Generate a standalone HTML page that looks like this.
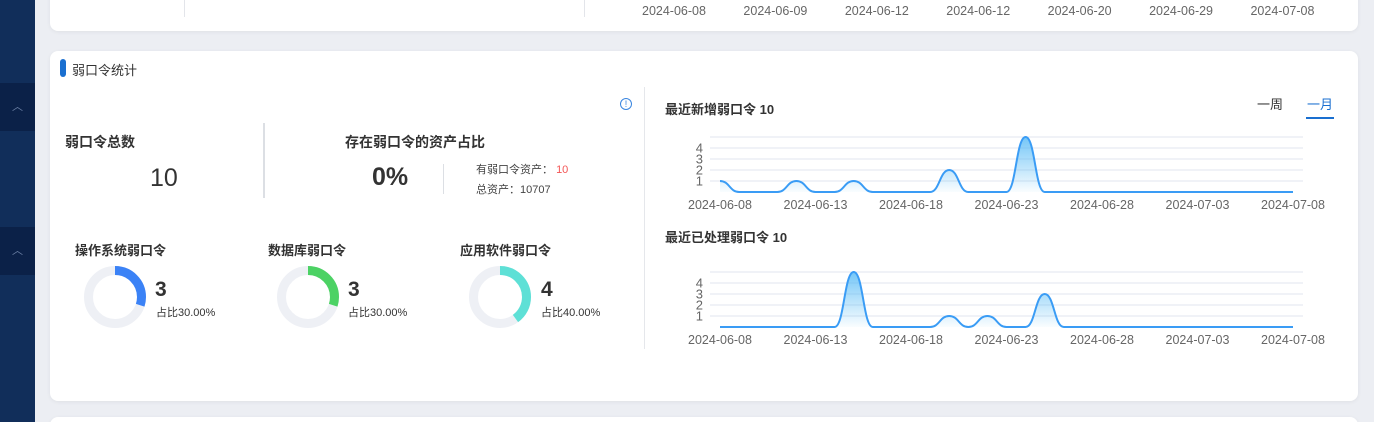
<!DOCTYPE html>
<html><head><meta charset="utf-8">
<style>
*{box-sizing:border-box;margin:0;padding:0}
html,body{width:1374px;height:422px;overflow:hidden}
body{background:#eceef3;font-family:"Liberation Sans","Noto Sans CJK SC",sans-serif;position:relative;color:#333}
.sidebar{position:absolute;left:0;top:0;width:35px;height:422px;background:#112e5a}
.sb-item{position:absolute;left:0;width:35px;height:48px;background:#0b2148;color:#6d82a6;font-size:11px;text-align:center;line-height:48px}
.card{position:absolute;left:50px;width:1308px;background:#fff;border-radius:8px;box-shadow:0 1px 4px rgba(0,0,0,.06)}
.abs{position:absolute;white-space:nowrap}
</style></head><body>
<div class="sidebar">
 <div class="sb-item" style="top:83px">︿</div>
 <div class="sb-item" style="top:227px">︿</div>
</div>
<div class="card" style="top:-10px;height:41px">
 <div class="abs" style="left:134px;top:0;width:1px;height:27px;background:#e3e5ea"></div>
 <div class="abs" style="left:534px;top:0;width:1px;height:27px;background:#e3e5ea"></div>
 <div class="abs" style="left:592px;top:14px;font-size:12.5px;color:#666;word-spacing:34px">2024-06-08 2024-06-09 2024-06-12 2024-06-12 2024-06-20 2024-06-29 2024-07-08</div>
</div>
<div class="card" style="top:51px;height:350px">
 <div class="abs" style="left:10px;top:8px;width:6px;height:18px;background:#1a6fd0;border-radius:3px"></div>
 <div class="abs" style="left:22px;top:9px;font-size:13px;color:#333">弱口令统计</div>
 <div class="abs" style="left:570px;top:47px;width:12px;height:12px;border:1px solid #3a86e0;border-radius:50%;color:#3a86e0;font-size:9px;line-height:10px;text-align:center">!</div>
 <div class="abs" style="left:594px;top:36px;width:1px;height:262px;background:#e5e7eb"></div>
 <div class="abs" style="left:15px;top:81px;font-size:14px;font-weight:bold">弱口令总数</div>
 <div class="abs" style="left:100px;top:113px;font-size:25px">10</div>
 <div class="abs" style="left:213px;top:72px;width:2px;height:75px;background:#dcdfe4"></div>
 <div class="abs" style="left:295px;top:81px;font-size:14px;font-weight:bold">存在弱口令的资产占比</div>
 <div class="abs" style="left:322px;top:112px;font-size:25px;font-weight:bold">0%</div>
 <div class="abs" style="left:393px;top:113px;width:1px;height:30px;background:#dcdfe4"></div>
 <div class="abs" style="left:426px;top:110px;font-size:11px;color:#444">有弱口令资产： <span style="color:#f35555">10</span></div>
 <div class="abs" style="left:426px;top:130px;font-size:11px;color:#444">总资产：10707</div>

 <div class="abs" style="left:25px;top:189px;font-size:13px;font-weight:bold">操作系统弱口令</div>
 <div class="abs" style="left:218px;top:189px;font-size:13px;font-weight:bold">数据库弱口令</div>
 <div class="abs" style="left:410px;top:189px;font-size:13px;font-weight:bold">应用软件弱口令</div>
 <svg class="abs" style="left:0;top:180px" width="594" height="120" id="donuts"></svg>
 <div class="abs" style="left:105px;top:227px;font-size:21px;font-weight:bold">3</div>
 <div class="abs" style="left:106px;top:253px;font-size:11px">占比30.00%</div>
 <div class="abs" style="left:298px;top:227px;font-size:21px;font-weight:bold">3</div>
 <div class="abs" style="left:298px;top:253px;font-size:11px">占比30.00%</div>
 <div class="abs" style="left:491px;top:227px;font-size:21px;font-weight:bold">4</div>
 <div class="abs" style="left:491px;top:253px;font-size:11px">占比40.00%</div>

 <div class="abs" style="left:615px;top:48px;font-size:13px;font-weight:bold">最近新增弱口令 10</div>
 <div class="abs" style="left:1207px;top:43px;font-size:13px;color:#333">一周</div>
 <div class="abs" style="left:1256px;top:43px;font-size:13px;color:#1a6fd0;border-bottom:2px solid #1a6fd0;padding:0 0 4px 1px;width:28px">一月</div>
 <div class="abs" style="left:615px;top:176px;font-size:13px;font-weight:bold">最近已处理弱口令 10</div>
</div>
<div class="card" style="top:417px;height:20px"></div>
<svg id="charts" width="1374" height="422" style="position:absolute;left:0;top:0"></svg>
<script>
const dates=[];
const startDay=new Date(Date.UTC(2024,5,8));
for(let i=0;i<31;i++){const d=new Date(startDay.getTime()+i*864e5);dates.push(d.toISOString().slice(0,10));}
const newValues=[1,0,0,0,1,0,0,1,0,0,0,0,2,0,0,0,5,0,0,0,0,0,0,0,0,0,0,0,0,0,0];
const handledValues=[0,0,0,0,0,0,0,5,0,0,0,0,1,0,1,0,0,3,0,0,0,0,0,0,0,0,0,0,0,0,0];
const yTicks=[1,2,3,4];
const tickEvery=5;
const donutLabels=["操作系统","数据库","应用软件"];
const donutValues=[3,3,4];
const donutColors=["#3b82f6","#4cd264","#5ee0d6"];
const NS="http://www.w3.org/2000/svg";
function mk(t,a,p){const e=document.createElementNS(NS,t);for(const k in a)e.setAttribute(k,a[k]);p.appendChild(e);return e;}
const svg=document.getElementById('charts');
const defs=mk('defs',{},svg);
const g=mk('linearGradient',{id:'ag',x1:0,y1:0,x2:0,y2:1},defs);
mk('stop',{offset:0,'stop-color':'#52b8f5','stop-opacity':0.8},g);
mk('stop',{offset:1,'stop-color':'#52b8f5','stop-opacity':0.03},g);
function chart(vals,base,name){
  const x0=720,x1=1293,unit=11,ymax=5;
  const X=i=>x0+i*(x1-x0)/(dates.length-1);
  const Y=v=>base-v*unit;
  for(let v=1;v<=ymax;v++){const l=mk('line',{x1:710,x2:1303,y1:Y(v),y2:Y(v),stroke:'#e1e5ef','stroke-width':1},svg);
    }
  yTicks.forEach(v=>{const t=mk('text',{x:703,y:Y(v)+4.5,'text-anchor':'end','font-size':13,fill:'#666','font-family':'Liberation Sans'},svg);t.textContent=v;
    });
  dates.forEach((d,i)=>{if(i%tickEvery===0){const t=mk('text',{x:X(i),y:base+17,'text-anchor':'middle','font-size':12.5,fill:'#666','font-family':'Liberation Sans'},svg);t.textContent=d;
    }});
  let p=`M${X(0)},${Y(vals[0])}`;
  for(let i=1;i<vals.length;i++){const xa=X(i-1),xb=X(i),m=(xb-xa)*0.5;p+=` C${xa+m},${Y(vals[i-1])} ${xb-m},${Y(vals[i])} ${xb},${Y(vals[i])}`;}
  const area=mk('path',{d:p+` L${X(vals.length-1)},${base} L${X(0)},${base} Z`,fill:'url(#ag)'},svg);
  
  const line=mk('path',{d:p,fill:'none',stroke:'#3a9cf5','stroke-width':2},svg);
  
}
chart(newValues,192,'new-weak-password');
chart(handledValues,327,'handled-weak-password');
const ds=document.getElementById('donuts');
const total=donutValues.reduce((a,b)=>a+b,0);
const cxs=[65,258,450];
donutValues.forEach((v,i)=>{
  const cx=cxs[i],cyy=66,r=26.5,C=2*Math.PI*r;
  const bg=mk('circle',{cx:cx,cy:cyy,r:r,fill:'none',stroke:'#eef0f5','stroke-width':9},ds);
  
  const arc=mk('circle',{cx:cx,cy:cyy,r:r,fill:'none',stroke:donutColors[i],'stroke-width':9,'stroke-dasharray':`${C*v/total} ${C}`,transform:`rotate(-90 ${cx} ${cyy})`},ds);
  
});
</script>
</body></html>
